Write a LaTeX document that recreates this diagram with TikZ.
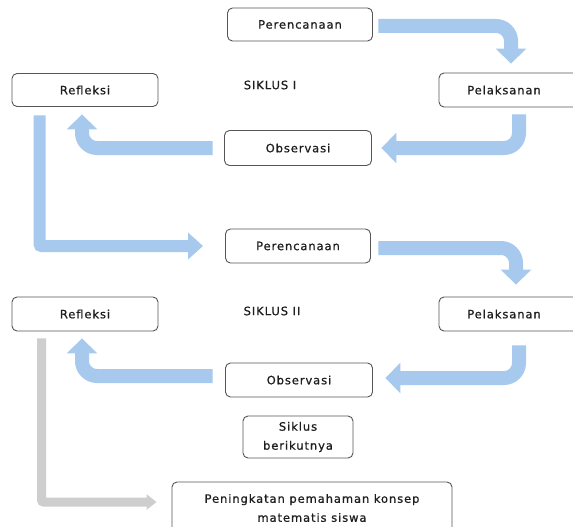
\documentclass[tikz,border=0pt]{standalone}
\usepackage{fontspec}
\setmainfont{DejaVu Sans}[LetterSpace=8,FakeBold=0.8]
\usetikzlibrary{arrows.meta,calc}
\definecolor{flow}{RGB}{166,201,237}
\definecolor{grayflow}{RGB}{206,206,206}
\definecolor{edge}{RGB}{85,85,85}
\definecolor{txt}{RGB}{30,30,30}
\begin{document}
\begin{tikzpicture}[x=1pt,y=-1pt,
  box/.style={draw=edge, line width=0.9pt, rounded corners=5pt, fill=white, text=txt,
    font=\fontsize{11.5}{19}\selectfont, align=center, inner sep=0pt},
  lbl/.style={text=txt, font=\fontsize{11.5}{13}\selectfont, inner sep=0pt},
  flowarrow/.style={draw=flow, line width=14pt, rounded corners=15pt,
    -{Triangle[width=30pt,length=15pt]}},
  longarrow/.style={draw=flow, line width=12pt, rounded corners=2pt,
    -{Triangle[width=26pt,length=15pt]}},
  grayarrow/.style={draw=grayflow, line width=9pt, rounded corners=2pt,
    -{Triangle[width=15pt,length=10pt]}}]
\useasboundingbox[fill=white] (0,0) rectangle (573,527);

% cycle I
\node[box, minimum width=145pt, minimum height=33pt] (p1) at (300,24.5) {Perencanaan};
\node[box, minimum width=146pt, minimum height=33pt] (r1) at (85,90) {Refleksi};
\node[box, minimum width=139pt, minimum height=34pt] (l1) at (508.5,90) {\hspace*{-9pt}Pelaksanan};
\node[box, minimum width=147pt, minimum height=35pt] (o1) at (298,148) {Observasi};
\node[lbl] (s1) at (270,85) {SIKLUS I};

% cycle II
\node[box, minimum width=145pt, minimum height=34pt] (p2) at (298,246) {Perencanaan};
\node[box, minimum width=146pt, minimum height=34pt] (r2) at (85,314) {Refleksi};
\node[box, minimum width=139pt, minimum height=34pt] (l2) at (508.5,314) {\hspace*{-9pt}Pelaksanan};
\node[box, minimum width=147pt, minimum height=34pt] (o2) at (299,380) {Observasi};
\node[lbl] (s2) at (272,311) {SIKLUS II};

\node[box, minimum width=110pt, minimum height=42pt] (sb) at (298,437) {Siklus\\berikutnya};
\node[box, minimum width=280pt, minimum height=52pt] (pk) at (312,508) {Peningkatan pemahaman konsep\\matematis siswa};

% arrows cycle I
\draw[flowarrow] ($(p1.east)+(5.5,1.5)$) -| ($(l1.north)+(2.5,-9)$);
\draw[flowarrow] ($(l1.south)+(10.5,7)$) |- ($(o1.east)+(9.5,0)$);
\draw[flowarrow] ($(o1.west)+(-11.5,0)$) -| ($(r1.south)+(-3,7.5)$);
\draw[longarrow] ($(r1.south west)+(28,8.5)$) |- ($(p2.west)+(-22,0)$);

% arrows cycle II
\draw[flowarrow] ($(p2.east)+(7.5,2)$) -| ($(l2.north)+(7.5,-12)$);
\draw[flowarrow] ($(l2.south)+(10.5,14)$) |- ($(o2.east)+(12.5,-2)$);
\draw[flowarrow] ($(o2.west)+(-12.5,-4)$) -| ($(r2.south)+(-3,7)$);
\draw[grayarrow] ($(r2.south west)+(30,7)$) |- ($(pk.west)+(-15,-6)$);
\end{tikzpicture}
\end{document}
